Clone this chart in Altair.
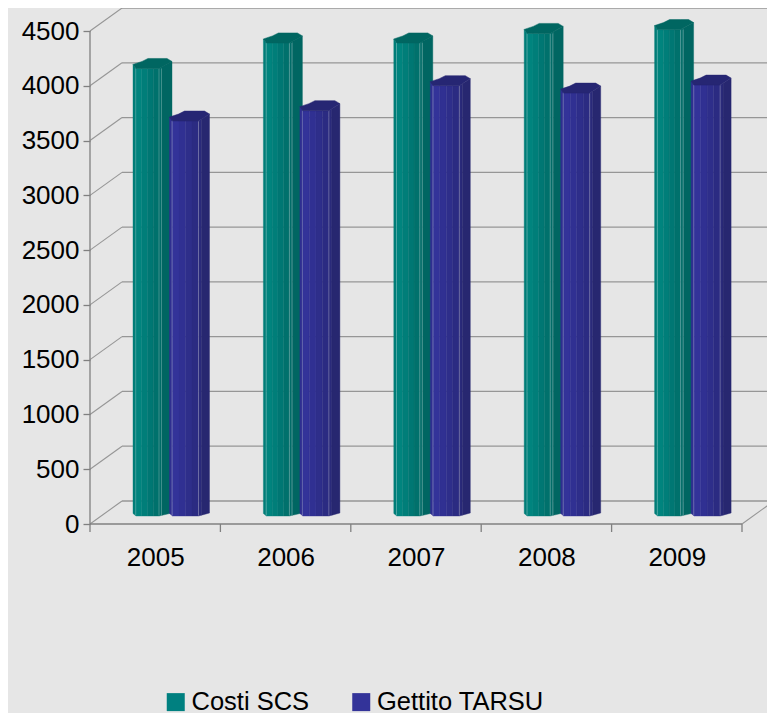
import altair as alt
import numpy as np
import pandas as pd

years = ["2005", "2006", "2007", "2008", "2009"]
costi = [4085, 4318, 4318, 4405, 4440]
gettito = [3605, 3700, 3928, 3860, 3933]
series_names = ["Costi SCS", "Gettito TARSU"]
y_ticks = [0, 500, 1000, 1500, 2000, 2500, 3000, 3500, 4000, 4500]

BG = "#e6e6e6"
GRID = "#969696"
AXIS = "#808080"
PX_X = 130.4                # pixels per category
PX_Y = 493 / 4500           # pixels per unit of value
W, H = 759, 705
X0, Y0 = 82, 516            # origin of the front plane inside the plot
DX, DY = 32, 23             # depth of the back wall
BAR_DEPTH = 8               # columns stand this far behind the front plane


def ux(px):
    return px / PX_X


def uy(px):
    return px / PX_Y


x_scale = alt.Scale(domain=[ux(-X0), ux(W - X0)], nice=False, zero=False)
y_scale = alt.Scale(domain=[uy(Y0 - H), uy(Y0)], nice=False, zero=False)
X = lambda f: alt.X(f, type="quantitative", scale=x_scale, title=None)
Y = lambda f: alt.Y(f, type="quantitative", scale=y_scale, title=None)

# Frame: back wall lines and the diagonals joining them to the front axis
back = pd.DataFrame({"x": ux(DX), "x2": ux(W - X0), "y": [v + uy(DY) for v in y_ticks]})
side = pd.DataFrame({"x": 0.0, "x2": ux(DX), "y": y_ticks, "y2": [v + uy(DY) for v in y_ticks]})
right = pd.DataFrame({"x": [5.0], "x2": [5 + ux(DX)], "y": [0.0], "y2": [uy(DY)]})
frame_front = pd.DataFrame({"x": [0.0], "x2": [5.0], "y": [0.0]})
frame_left = pd.DataFrame({"x": [0.0], "y": [0.0], "y2": [4500.0]})
x_ticks = pd.DataFrame({"x": list(range(6)), "y": 0.0, "y2": uy(-8)})

back_l = alt.Chart(back).mark_rule(color=GRID, strokeWidth=1.3).encode(x=X("x"), x2="x2", y=Y("y"))
side_l = alt.Chart(side).mark_rule(color=GRID, strokeWidth=1.1).encode(x=X("x"), x2="x2", y=Y("y"), y2="y2")
right_l = alt.Chart(right).mark_rule(color=GRID, strokeWidth=1.1).encode(x=X("x"), x2="x2", y=Y("y"), y2="y2")
front_l = alt.Chart(frame_front).mark_rule(color=AXIS, strokeWidth=1.3).encode(x=X("x"), x2="x2", y=Y("y"))
left_l = alt.Chart(frame_left).mark_rule(color=AXIS, strokeWidth=1.3).encode(x=X("x"), y=Y("y"), y2="y2")
tick_l = alt.Chart(x_ticks).mark_rule(color=AXIS, strokeWidth=1.3).encode(x=X("x"), y=Y("y"), y2="y2")

# Cylindrical-looking columns, built strip by strip from each value
STYLE = {
    "Costi SCS": {
        "offset": 43, "width": 39, "front": 26,
        "strips": ["#007d78", "#00847e", "#007e79", "#007773", "#00716c", "#006c68", "#006662"],
        "cap": "#006661", "hi": [2.7, 26, 28.5],
    },
    "Gettito TARSU": {
        "offset": 79.5, "width": 40, "front": 29,
        "strips": ["#2f2f90", "#333399", "#303092", "#2e2e8a", "#2b2b82", "#2a2a7a", "#272770"],
        "cap": "#262673", "hi": [2.5, 29],
    },
}


def column(i, value, name):
    st = STYLE[name]
    w, f = st["width"], st["front"]
    left = i * PX_X + st["offset"]
    lift = uy(BAR_DEPTH)
    top_x = [0, 3, f, w]
    top_d = [4, 0, 0, 7]
    base_d = [2.5, 0, 0, 3]
    front_edges = list(np.linspace(3, f, 5))
    edges = [0] + front_edges + [f + 3, w]
    bodies, caps, his = [], [], []
    key = f"{name}-{i}"
    for s in range(len(edges) - 1):
        col = st["strips"][min(s, len(st["strips"]) - 1)]
        for e in (edges[s], edges[s + 1]):
            bodies.append({
                "k": f"{key}-{s:02d}",
                "x": ux(left + e),
                "y": value + lift + uy(np.interp(e, top_x, top_d)),
                "y2": lift + uy(np.interp(e, top_x, base_d)),
                "c": col,
            })
    up_x, up_d = [0, 9, 15, w - 5, w], [4, 7, 10, 10, 7]
    lo_x, lo_d = top_x, top_d
    for e in sorted(set(up_x + lo_x)):
        caps.append({
            "k": key,
            "x": ux(left + e),
            "y": value + lift + uy(np.interp(e, up_x, up_d)),
            "y2": value + lift + uy(np.interp(e, lo_x, lo_d)),
            "c": st["cap"],
        })
    for e in st["hi"]:
        his.append({"x": ux(left + e), "y": value + lift, "y2": lift + uy(0.5)})
    return bodies, caps, his


def series_layers(values, name):
    bodies, caps, his = [], [], []
    for i, v in enumerate(values):
        b, c, h = column(i, v, name)
        bodies += b
        caps += c
        his += h
    body = alt.Chart(pd.DataFrame(bodies)).mark_area(strokeWidth=0.4).encode(
        x=X("x"), y=Y("y"), y2="y2", detail="k:N",
        fill=alt.Fill("c:N", scale=None), stroke=alt.Stroke("c:N", scale=None))
    cap = alt.Chart(pd.DataFrame(caps)).mark_area(strokeWidth=0.5).encode(
        x=X("x"), y=Y("y"), y2="y2", detail="k:N",
        fill=alt.Fill("c:N", scale=None), stroke=alt.Stroke("c:N", scale=None))
    hi = alt.Chart(pd.DataFrame(his)).mark_rule(color="#ffffff", opacity=0.25, strokeWidth=1).encode(
        x=X("x"), y=Y("y"), y2="y2")
    return [body, hi, cap]


# Axes and legend
axes = alt.Chart(pd.DataFrame({
    "x": [0.5, 1.5, 2.5, 3.5, 4.5], "y": [0, 1000, 2000, 3000, 4000],
    "s": (series_names * 3)[:5],
})).mark_square(opacity=0).encode(
    x=alt.X("x:Q", scale=x_scale, title=None, axis=alt.Axis(
        values=[0.5, 1.5, 2.5, 3.5, 4.5], labelExpr="'' + (datum.value + 2004.5)",
        ticks=False, domain=False, grid=False, offset=-(H - Y0 - 8), labelPadding=12,
        labelFontSize=26, labelFont="Liberation Sans", labelColor="#000000", labelAngle=0,
        labelFlush=False, labelOverlap=False)),
    y=alt.Y("y:Q", scale=y_scale, title=None, axis=alt.Axis(
        values=y_ticks, domain=False, grid=False, offset=-X0, tickSize=7, tickColor=AXIS,
        tickWidth=1.3, labelPadding=4, labelFontSize=26, labelFont="Liberation Sans",
        labelColor="#000000", labelFlush=False, labelOverlap=False, format="d")),
    color=alt.Color("s:N", scale=alt.Scale(domain=series_names, range=["#008080", "#333399"]),
                    legend=alt.Legend(
                        title=None, orient="none", legendX=155, legendY=681, direction="horizontal",
                        columns=2, columnPadding=38.5, symbolType="square", symbolSize=324,
                        symbolOpacity=1, symbolStrokeWidth=0, labelFontSize=25.5, labelOpacity=1,
                        labelFont="Liberation Sans", labelColor="#000000", labelOffset=3,
                        labelLimit=400, padding=0)),
)

layers = [back_l, side_l, right_l, left_l, front_l, tick_l, axes]
layers += series_layers(costi, series_names[0])
layers += series_layers(gettito, series_names[1])

chart = alt.layer(*layers).properties(
    width=W, height=H, padding=0, background=BG,
    autosize=alt.AutoSizeParams(type="none"),
).configure_view(stroke=None)

chart.save("out.html", embed_options={"renderer": "svg", "actions": False})
